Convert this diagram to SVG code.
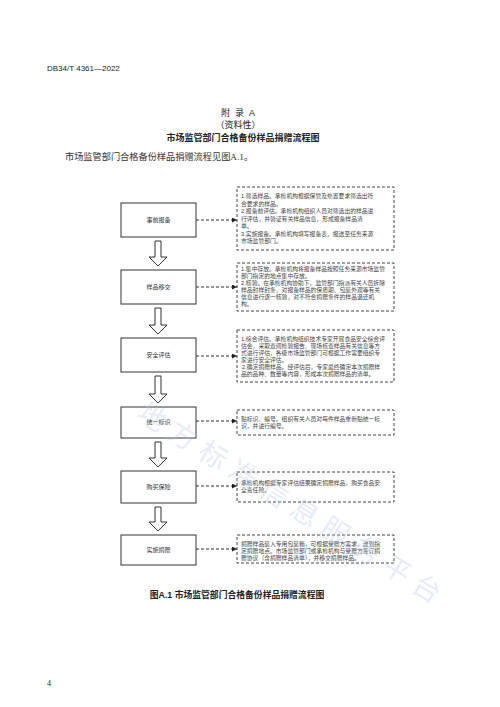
<svg xmlns="http://www.w3.org/2000/svg" width="500" height="707" viewBox="0 0 500 707">
<style>
text{font-family:"Liberation Sans","Noto Sans CJK SC",sans-serif;fill:#222}
.hdr{font-size:8px}
.t{font-size:9px;text-anchor:middle}
.tb{font-size:9px;text-anchor:middle;font-weight:bold}
.body{font-family:"Liberation Serif","Noto Sans CJK SC",serif;font-size:9.2px;fill:#333}
.box{fill:#fff;stroke:#333;stroke-width:1}
.lbl{font-size:6px;text-anchor:middle;fill:#333}
.dbox{fill:#fff;stroke:#444;stroke-width:1;stroke-dasharray:3 2}
.dt{font-size:5.8px;fill:#444}
.harrow{fill:#fff;stroke:#333;stroke-width:1}
.dl{stroke:#333;stroke-width:1;stroke-dasharray:3 2;fill:none}
.wm{font-family:"Noto Sans CJK SC",sans-serif;font-size:28px;fill:#b7c8ea;opacity:0.33}
</style>
<defs>
<marker id="ah" viewBox="0 0 6 6" refX="6" refY="3" markerWidth="5" markerHeight="5" orient="auto" markerUnits="userSpaceOnUse">
<path d="M0,0 L6,3 L0,6 Z" fill="#222"/>
</marker>
</defs>
<rect width="500" height="707" fill="#fff"/>
<text class="hdr" x="47" y="71">DB34/T 4361—2022</text>
<text class="t" x="238" y="116" xml:space="preserve">附  录  A</text>
<text class="t" x="238" y="128">（资料性）</text>
<text class="tb" x="243" y="141">市场监管部门合格备份样品捐赠流程图</text>
<text class="body" x="65" y="160">市场监管部门合格备份样品捐赠流程见图A.1。</text>

<g id="connectors">
<path class="harrow" d="M155,241 H161 V257 H167 L158,266 L149,257 H155 Z"/>
<path class="harrow" d="M155,308 H161 V325 H167 L158,334 L149,325 H155 Z"/>
<path class="harrow" d="M155,376 H161 V394 H167 L158,403 L149,394 H155 Z"/>
<path class="harrow" d="M155,442 H161 V458 H167 L158,467 L149,458 H155 Z"/>
<path class="harrow" d="M155,507 H161 V522 H167 L158,531 L149,522 H155 Z"/>
<line class="dl" x1="196" y1="220" x2="237" y2="220" marker-end="url(#ah)"/>
<line class="dl" x1="196" y1="287" x2="237" y2="287" marker-end="url(#ah)"/>
<line class="dl" x1="196" y1="356" x2="237" y2="356" marker-end="url(#ah)"/>
<line class="dl" x1="196" y1="421" x2="237" y2="421" marker-end="url(#ah)"/>
<line class="dl" x1="196" y1="486" x2="237" y2="486" marker-end="url(#ah)"/>
<line class="dl" x1="196" y1="549" x2="237" y2="549" marker-end="url(#ah)"/>
</g>

<g id="n1"><rect class="box" x="121" y="203" width="75" height="34"/><text class="lbl" x="158.5" y="222">事前报备</text></g>
<g id="n2"><rect class="box" x="121" y="270" width="75" height="34"/><text class="lbl" x="158.5" y="289">样品移交</text></g>
<g id="n3"><rect class="box" x="121" y="338" width="75" height="34"/><text class="lbl" x="158.5" y="357">安全评估</text></g>
<g id="n4"><rect class="box" x="121" y="407" width="75" height="31"/><text class="lbl" x="158.5" y="424">统一标识</text></g>
<g id="n5"><rect class="box" x="121" y="471" width="75" height="32"/><text class="lbl" x="158.5" y="489">购买保险</text></g>
<g id="n6"><rect class="box" x="121" y="535" width="75" height="30"/><text class="lbl" x="158.5" y="552">实施捐赠</text></g>

<g id="d1"><rect class="dbox" x="237" y="187" width="157" height="63"/>
<text class="dt" x="241" y="198">1.筛选样品。承检机构根据保管及处置要求筛选出符</text>
<text class="dt" x="241" y="205.5">合要求的样品。</text>
<text class="dt" x="241" y="213">2.报备前评估。承检机构组织人员对筛选出的样品进</text>
<text class="dt" x="241" y="220.5">行评估，并验证有关样品信息，形成报备样品清</text>
<text class="dt" x="241" y="228">单。</text>
<text class="dt" x="241" y="235.5">3.实施报备。承检机构填写报备表，报送至任务来源</text>
<text class="dt" x="241" y="243">市场监管部门。</text>
</g>
<g id="d2"><rect class="dbox" x="237" y="263" width="157" height="48"/>
<text class="dt" x="241" y="271">1.集中存放。承检机构将报备样品按照任务来源市场监管</text>
<text class="dt" x="241" y="278">部门指定的地点集中存放。</text>
<text class="dt" x="241" y="285">2.核验。在承检机构协助下，监管部门指派有关人员拆除</text>
<text class="dt" x="241" y="292">样品封样封条，对报备样品的保质期、包装外观等有关</text>
<text class="dt" x="241" y="299">信息进行逐一核验，对不符合捐赠条件的样品退还机</text>
<text class="dt" x="241" y="306">构。</text>
</g>
<g id="d3"><rect class="dbox" x="237" y="330" width="157" height="52"/>
<text class="dt" x="241" y="341">1.综合评估。承检机构组织技术专家开展食品安全综合评</text>
<text class="dt" x="241" y="348">估会，采取查阅检验报告、现场核查样品有关信息等方</text>
<text class="dt" x="241" y="355">式进行评估，各级市场监管部门可根据工作需要组织专</text>
<text class="dt" x="241" y="362">家进行安全评估。</text>
<text class="dt" x="242" y="369">2.确定捐赠样品。经评估后，专家最终确定本次捐赠样</text>
<text class="dt" x="241" y="376">品的品种、数量等内容，形成本次捐赠样品的清单。</text>
</g>
<g id="d4"><rect class="dbox" x="237" y="410" width="157" height="25"/>
<text class="dt" x="241" y="421">贴标识、编号。组织有关人员对每件样品重新贴统一标</text>
<text class="dt" x="241" y="428">识，并进行编号。</text>
</g>
<g id="d5"><rect class="dbox" x="237" y="472" width="157" height="30"/>
<text class="dt" x="241" y="485">承检机构根据专家评估结果确定捐赠样品，购买食品安</text>
<text class="dt" x="241" y="492">全责任险。</text>
</g>
<g id="d6"><rect class="dbox" x="237" y="535" width="157" height="28"/>
<text class="dt" x="241" y="546">捐赠样品装入专用包装箱，可根据受赠方需求，送到指</text>
<text class="dt" x="241" y="553">定捐赠地点。市场监管部门或承检机构与受赠方签订捐</text>
<text class="dt" x="241" y="560">赠协议（含捐赠样品清单），并移交捐赠样品。</text>
</g>

<text class="tb" x="237" y="598" style="font-weight:600;font-size:8.8px">图A.1 市场监管部门合格备份样品捐赠流程图</text>
<text class="hdr" x="47" y="686" style="font-family:'Liberation Serif',serif">4</text>

<text class="wm" x="135" y="418" transform="rotate(32 135 418)" letter-spacing="8">地方标准信息服务平台</text>
</svg>
